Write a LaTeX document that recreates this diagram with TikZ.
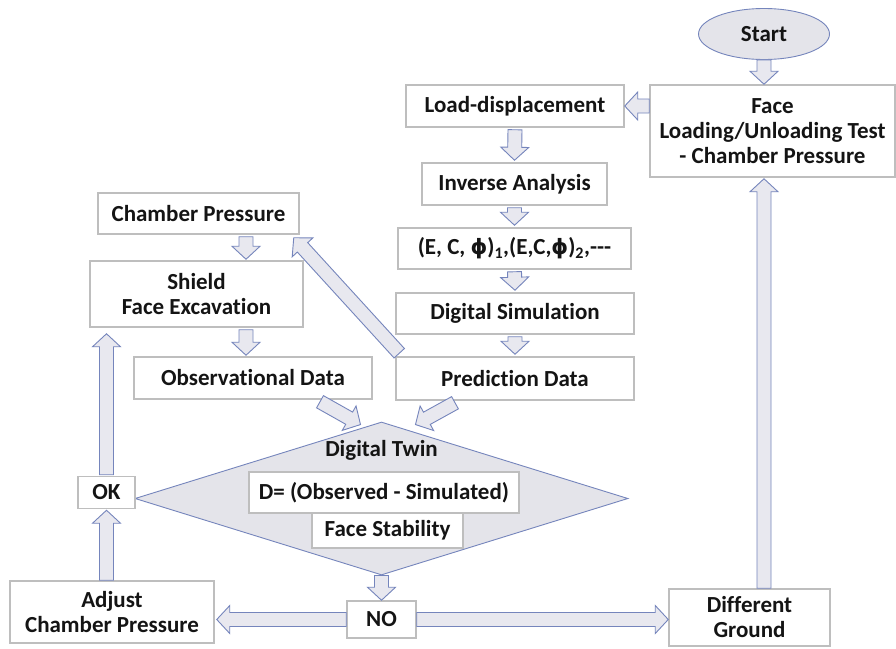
\documentclass[tikz,border=0pt]{standalone}
\usepackage{fontspec}
\setmainfont[Ligatures={TeX,NoCommon}]{Carlito}
\newfontfamily\phifont[Scale=0.92]{DejaVu Sans}
\usetikzlibrary{shapes.geometric,calc}
\definecolor{arrfill}{HTML}{E8E8EF}
\definecolor{arrblue}{HTML}{7585BC}
\definecolor{diafill}{HTML}{E4E4EA}
\definecolor{boxgray}{HTML}{BEBEBE}
\definecolor{txt}{HTML}{141414}
\newcommand\myphi{{\phifont\bfseries ϕ}}
\newcommand\blockarrow[2]{%
  \coordinate (ba) at #1;
  \coordinate (bb) at #2;
  \coordinate (bh) at ($(bb)!13pt!(ba)$);
  \filldraw[barr] ($(ba)!7pt!90:(bb)$) -- ($(bh)!7pt!90:(bb)$) -- ($(bh)!14pt!90:(bb)$) -- (bb)
    -- ($(bh)!14pt!-90:(bb)$) -- ($(bh)!7pt!-90:(bb)$) -- ($(ba)!7pt!-90:(bb)$) -- cycle;}
\begin{document}
\begin{tikzpicture}[x=1pt,y=-1pt,
  lbl/.style={text=txt, font=\bfseries\fontsize{23}{25}\selectfont, align=center},
  box/.style={lbl, draw=boxgray, line width=1.5pt, fill=white, inner sep=0pt},
  barr/.style={draw=arrblue, fill=arrfill, line width=0.9pt, line join=miter}]
\useasboundingbox (0,0) rectangle (896,648);
\fill[white] (0,0) rectangle (896,648);

% decision diamond
\node[draw=arrblue, fill=diafill, line width=0.9pt, diamond, minimum width=493pt, minimum height=153pt, inner sep=0pt] (dt) at (381.5,498.5) {};
\node[lbl] (dtt) at (381.5,450) {Digital Twin};
\node[box, minimum width=270pt, minimum height=41pt] (dbox) at (384,492.5) {D= (Observed - Simulated)};
\node[box, minimum width=151pt, minimum height=35pt] (fs) at (387.5,530.5) {Face Stability};

% start and right column
\node[ellipse, draw=arrblue, fill=diafill, line width=0.9pt, minimum width=131pt, minimum height=51pt, inner sep=0pt, lbl] (start) at (764,34) {Start};
\node[box, minimum width=245pt, minimum height=92pt] (face) at (772.5,131) {Face\\Loading/Unloading Test\\- Chamber Pressure};

% middle column
\node[box, minimum width=218pt, minimum height=42pt] (load) at (515,106) {Load-displacement};
\node[box, minimum width=185pt, minimum height=42pt] (inv) at (514.5,184) {Inverse Analysis};
\node[box, minimum width=233pt, minimum height=41pt] (ecp) at (514.5,248.5) {(E, C, \myphi)\textsubscript{1},(E,C,\myphi)\textsubscript{2},{-}{-}{-}};
\node[box, minimum width=238pt, minimum height=41pt] (dsim) at (515,313.5) {Digital Simulation};
\node[box, minimum width=238pt, minimum height=43pt] (pred) at (515,378.5) {Prediction Data};

% left column
\node[box, minimum width=201pt, minimum height=41pt] (cp) at (198.5,213.5) {Chamber Pressure};
\node[box, minimum width=213pt, minimum height=66pt] (shield) at (196.5,294) {Shield\\Face Excavation};
\node[box, minimum width=238pt, minimum height=42pt] (obs) at (253,378) {Observational Data};

% bottom row
\node[box, minimum width=57pt, minimum height=32pt] (ok) at (106.5,492.5) {OK};
\node[box, minimum width=204pt, minimum height=62pt] (adj) at (112,612) {Adjust\\Chamber Pressure};
\node[box, minimum width=69pt, minimum height=37pt] (no) at (381.5,619.5) {NO};
\node[box, minimum width=161pt, minimum height=57pt] (dg) at (749.5,617.5) {Different\\Ground};

\coordinate (lc) at (246,0);

% connectors
\blockarrow{(start.south)}{(start.south |- face.north)}
\blockarrow{(face.west |- load.east)}{(load.east)}
\blockarrow{($(load.south)+(0,2)$)}{($(inv.north)+(0,-2)$)}
\blockarrow{($(inv.south)+(0,2)$)}{($(ecp.north)+(0,-2)$)}
\blockarrow{($(ecp.south)+(0,2)$)}{($(dsim.north)+(0,-2)$)}
\blockarrow{($(dsim.south)+(0,2)$)}{($(pred.north)+(0,-2)$)}
\blockarrow{($(pred.north west)+(4,-3)$)}{($(cp.south east)+(-6,3)$)}
\blockarrow{($(cp.south -| lc)+(0,2)$)}{($(shield.north -| lc)+(0,-1)$)}
\blockarrow{($(shield.south -| lc)+(0,2)$)}{($(obs.north -| lc)+(0,-1)$)}
\blockarrow{($(obs.south)+(67,2)$)}{($(dt.north)+(-21,3)$)}
\blockarrow{($(pred.south)+(-60,2)$)}{($(dt.north)+(34,3)$)}
\blockarrow{(dt.south)}{(no.north)}
\blockarrow{(no.west)}{($(adj.east |- no.west)+(2,0)$)}
\blockarrow{(no.east)}{(dg.west |- no.east)}
\blockarrow{(dg.north -| start.south)}{($(face.south -| start.south)+(0,1)$)}
\blockarrow{(adj.north -| ok.south)}{($(ok.south)+(0,1)$)}
\blockarrow{($(ok.north)+(0,-1)$)}{($(shield.south -| ok.north)+(0,6)$)}
\end{tikzpicture}
\end{document}
